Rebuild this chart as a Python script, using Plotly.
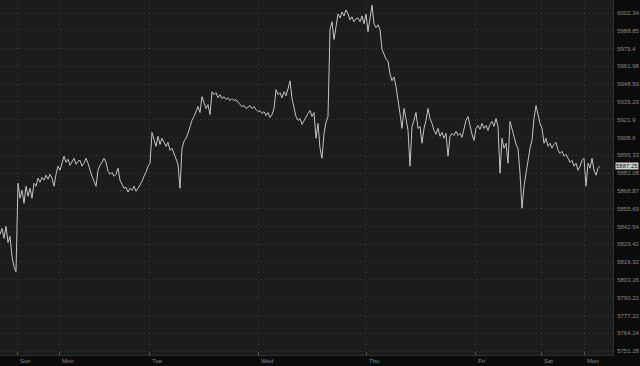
import math
import plotly.graph_objects as go

# Price series (one sample per bar, left to right)
price = [
    5836.6, 5841.1, 5833.7, 5842.6, 5830.7, 5835.2, 5820.3, 5812.9, 5809.2, 5874.5,
    5863.4, 5869.3, 5859.7, 5872.3, 5864.9, 5870.8, 5863.4, 5874.5, 5872.3, 5878.3,
    5875.3, 5879.0, 5876.8, 5880.5, 5877.5, 5881.2, 5878.3, 5872.3, 5881.2, 5887.2,
    5884.2, 5890.1, 5894.6, 5890.1, 5892.4, 5887.9, 5890.1, 5893.1, 5888.7, 5890.9,
    5891.6, 5887.2, 5889.4, 5893.1, 5889.4, 5884.2, 5879.7, 5876.0, 5872.3, 5884.2,
    5887.9, 5890.1, 5893.1, 5890.1, 5883.5, 5881.2, 5882.7, 5879.7, 5881.2, 5885.7,
    5876.8, 5873.8, 5870.8, 5871.6, 5867.9, 5870.8, 5869.3, 5872.3, 5868.6, 5870.8,
    5873.1, 5876.0, 5879.7, 5882.7, 5887.2, 5889.4, 5912.4, 5906.5, 5902.0, 5909.5,
    5903.5, 5908.0, 5904.3, 5902.0, 5905.0, 5899.1, 5900.6, 5896.1, 5893.1, 5888.7,
    5870.8, 5900.6, 5905.8, 5908.0, 5911.7, 5916.9, 5921.4, 5924.3, 5928.8, 5931.8,
    5927.3, 5939.2, 5934.7, 5930.3, 5933.2, 5925.8, 5942.9, 5940.7, 5942.2, 5938.4,
    5940.7, 5937.7, 5939.2, 5937.0, 5938.4, 5936.2, 5937.7, 5936.2, 5937.0, 5934.7,
    5933.2, 5931.8, 5932.5, 5930.3, 5931.8, 5932.5, 5930.3, 5931.8, 5929.5, 5928.0,
    5928.8, 5926.6, 5928.0, 5925.1, 5927.3, 5923.6, 5925.8, 5930.3, 5944.4, 5940.7,
    5942.2, 5938.4, 5942.9, 5939.9, 5945.1, 5951.1, 5937.7, 5930.3, 5924.3, 5921.4,
    5922.8, 5918.4, 5921.4, 5924.3, 5926.6, 5928.8, 5924.3, 5927.3, 5908.0, 5919.1,
    5900.6, 5893.1, 5911.7, 5919.9, 5924.3, 5989.7, 5995.7, 5982.3, 5991.2, 6001.6,
    5998.6, 6003.1, 6000.1, 6004.6, 6001.6, 5997.1, 5999.4, 5995.7, 5997.9, 5998.6,
    5995.7, 6000.1, 5994.2, 6001.6, 5988.2, 5998.6, 6008.3, 5994.2, 5991.2, 5993.4,
    5989.7, 5974.9, 5971.1, 5967.4, 5965.9, 5956.3, 5951.1, 5954.0, 5946.6, 5937.7,
    5926.6, 5915.4, 5930.3, 5922.8, 5913.9, 5887.2, 5916.9, 5921.4, 5927.3, 5915.4,
    5916.9, 5904.3, 5915.4, 5921.4, 5930.3, 5922.8, 5919.1, 5913.9, 5911.0, 5915.4,
    5909.5, 5912.4, 5908.0, 5911.7, 5894.6, 5909.5, 5911.7, 5910.2, 5913.2, 5910.2,
    5911.7, 5908.7, 5915.4, 5921.4, 5924.3, 5916.9, 5911.0, 5906.5, 5915.4, 5917.6,
    5914.7, 5919.1, 5915.4, 5917.6, 5913.9, 5918.4, 5920.6, 5916.9, 5922.8, 5916.9,
    5882.0, 5908.0, 5900.6, 5904.3, 5889.4, 5920.6, 5913.9, 5909.5, 5903.5, 5900.6,
    5882.0, 5856.0, 5872.3, 5882.0, 5889.4, 5900.6, 5906.5, 5922.8, 5932.5, 5924.3,
    5919.1, 5915.4, 5904.3, 5908.0, 5902.0, 5904.3, 5900.6, 5903.5, 5905.0, 5899.1,
    5896.8, 5898.3, 5894.6, 5896.1, 5893.1, 5890.1, 5891.6, 5887.2, 5889.4, 5884.2,
    5887.2, 5891.6, 5893.1, 5872.3, 5889.4, 5885.7, 5893.1, 5884.2, 5880.5, 5885.7,
    5887.25,
]

# Day boundaries (sample index) and labels
day_pos = [8.5, 29.5, 74.5, 129, 183, 237.5, 270.5, 292]
day_labels = ["Sun", "Mon", "Tue", "Wed", "Thu", "Fri", "Sat", "Mon"]

# Price axis ticks (log spaced)
y_ticks = [6002.34, 5988.85, 5975.4, 5961.98, 5948.59, 5935.23, 5921.9, 5908.6,
           5895.33, 5882.08, 5868.87, 5855.69, 5842.54, 5829.42, 5816.32, 5803.26,
           5790.22, 5777.22, 5764.24, 5751.28]
y_tick_text = ["6002.34", "5988.85", "5975.4", "5961.98", "5948.59", "5935.23", "5921.9",
               "5908.6", "5895.33", "5882.08", "5868.87", "5855.69", "5842.54", "5829.42",
               "5816.32", "5803.26", "5790.22", "5777.22", "5764.24", "5751.28"]
last_label = "5887.25"

x = list(range(len(price)))

fig = go.Figure()
fig.add_trace(go.Scatter(
    x=x, y=price, mode="lines",
    line=dict(color="#c4c4c4", width=1),
    hoverinfo="skip", showlegend=False,
))

# High line
fig.add_shape(type="line", xref="paper", yref="y", x0=0, x1=1,
              y0=math.log10(max(price)), y1=math.log10(max(price)),
              line=dict(color="#5d7a90", width=1))

hi = math.log10(6002.34)
lo = math.log10(5751.28)
d = (hi - lo) / 338.0

fig.update_layout(
    width=640, height=366,
    margin=dict(l=0, r=27, t=0, b=11),
    paper_bgcolor="#0b0b0b",
    plot_bgcolor="#1c1c1c",
    font=dict(family="Liberation Sans, Arial, sans-serif", size=6, color="#8a8a8a"),
    xaxis=dict(
        range=[0, 306.5], tickvals=day_pos, ticktext=[""] * len(day_pos),
        showgrid=True, gridcolor="#3c3c3c", griddash="1px,3px", gridwidth=1,
        zeroline=False, showline=True, linecolor="#2e2e2e", linewidth=1,
        ticks="inside", ticklen=3, tickcolor="#555555", fixedrange=True,
    ),
    yaxis=dict(
        type="log", side="right",
        range=[lo - 4 * d, hi + 13 * d],
        tickvals=y_ticks, ticktext=y_tick_text,
        showgrid=True, gridcolor="#3c3c3c", griddash="1px,3px", gridwidth=1,
        zeroline=False, showline=True, linecolor="#2e2e2e", linewidth=1,
        ticks="", ticklabelstandoff=2,
        tickfont=dict(size=6, color="#8a8a8a"), fixedrange=True,
    ),
)

for pos, lab in zip(day_pos, day_labels):
    fig.add_annotation(x=pos, xref="x", y=0, yref="paper", yshift=-1,
                       text=lab, showarrow=False, xanchor="left", yanchor="top",
                       font=dict(size=6, color="#8a8a8a"), xshift=1)

fig.add_annotation(x=1, xref="paper", y=math.log10(price[-1]), yref="y",
                   text=last_label, showarrow=False, xanchor="left", yanchor="middle",
                   xshift=2, bgcolor="#d0d0d0", borderpad=0,
                   font=dict(size=6, color="#111111"))

fig.write_html("out.html")
